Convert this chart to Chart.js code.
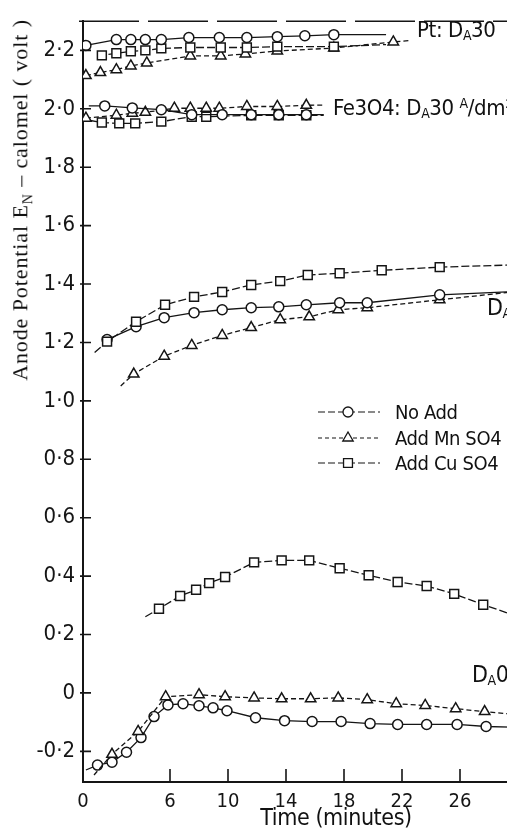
<!DOCTYPE html>
<html lang="en">
<head>
<meta charset="UTF-8">
<title>Anode potential vs time</title>
<script src="https://cdn.jsdelivr.net/npm/chart.js@4.4.1/dist/chart.umd.min.js"></script>
<style>
    html, body { margin: 0; padding: 0; background: #fff; overflow: hidden; }
    body { width: 507px; height: 831px; }
    #wrap { position: relative; width: 560px; height: 831px; }
    .lbl {
        position: absolute;
        font-family: 'DejaVu Sans Condensed', 'Liberation Sans', sans-serif;
        font-size: 20px;
        letter-spacing: -0.4px;
        color: #111;
        white-space: nowrap;
        line-height: 1;
    }
    .lbl sub { font-size: 14px; vertical-align: -3px; }
    .lbl sup { font-size: 14px; vertical-align: 7px; }
    #ytitle {
        position: absolute;
        left: 22px; top: 200px;
        width: 420px;
        margin-left: -210px;
        text-align: center;
        transform: translateY(-50%) rotate(-90deg);
        font-family: 'Liberation Serif', 'DejaVu Serif', serif;
        font-size: 22px;
        letter-spacing: 0.9px;
        color: #111;
        white-space: nowrap;
    }
    #ytitle sub { font-size: 14px; }
    #xtitle {
        position: absolute;
        left: 336px; top: 817px;
        transform: translate(-50%, -50%);
        font-size: 23px;
    }
</style>
</head>
<body>
<div id="wrap">
    <canvas id="chart"></canvas>
    <div id="ytitle">Anode Potential E<sub>N</sub> – calomel ( volt )</div>
    <div id="xtitle" class="lbl">Time (minutes)</div>
    <div class="lbl" style="left:417px; top:19px; font-size:22px;">Pt: D<sub>A</sub>30</div>
    <div class="lbl" style="left:333px; top:96px; font-size:22px;">Fe3O4: D<sub>A</sub>30 <sup>A</sup>/dm²</div>
    <div class="lbl" style="left:487px; top:296px; font-size:23px;">D<sub>A</sub>10</div>
    <div class="lbl" style="left:472px; top:663px; font-size:23px;">D<sub>A</sub>0</div>
    <div id="legend"></div>
</div>

<script>
    // axis ticks
    const xTicks = [0, 6, 10, 14, 18, 22, 26, 30];
    const yTicks = [-0.2, 0, 0.2, 0.4, 0.6, 0.8, 1.0, 1.2, 1.4, 1.6, 1.8, 2.0, 2.2];

    // Pt : DA 30
    const ptCircT = [0.2, 2.3, 3.3, 4.3, 5.4, 7.3, 9.4, 11.3, 13.4, 15.3, 17.3, 20.9];
    const ptCircV = [2.217, 2.237, 2.237, 2.237, 2.237, 2.244, 2.244, 2.244, 2.247, 2.25, 2.254, 2.254];
    const ptSqT = [1.0, 1.3, 2.3, 3.3, 4.3, 5.4, 7.4, 9.5, 11.3, 13.4, 17.3, 20.9];
    const ptSqV = [2.183, 2.183, 2.19, 2.197, 2.2, 2.207, 2.21, 2.21, 2.21, 2.213, 2.213, 2.22];
    const ptTriT = [0.2, 1.2, 2.3, 3.3, 4.4, 7.4, 9.5, 11.2, 13.4, 17.3, 21.4, 22.6];
    const ptTriV = [2.114, 2.124, 2.134, 2.147, 2.157, 2.181, 2.181, 2.188, 2.198, 2.208, 2.229, 2.234];

    // Fe3O4 : DA 30
    const feCircT = [0.4, 1.5, 3.4, 5.4, 7.5, 9.6, 11.6, 13.5, 15.4, 16.6];
    const feCircV = [2.01, 2.01, 2.003, 1.997, 1.98, 1.98, 1.98, 1.98, 1.98, 1.98];
    const feTriT = [0.2, 2.3, 3.4, 4.3, 6.3, 7.4, 8.5, 9.4, 11.3, 13.4, 15.4, 16.6];
    const feTriV = [1.968, 1.978, 1.985, 1.988, 2.002, 2.002, 2.002, 2.002, 2.008, 2.008, 2.012, 2.013];
    const feSqT = [0.5, 1.3, 2.5, 3.6, 5.4, 7.5, 8.5, 11.6, 13.5, 15.4, 16.6];
    const feSqV = [1.96, 1.953, 1.95, 1.95, 1.956, 1.973, 1.973, 1.978, 1.978, 1.978, 1.978];

    // middle group
    const midSqT = [0.8, 1.66, 3.66, 5.66, 7.66, 9.6, 11.6, 13.6, 15.5, 17.7, 20.6, 24.6, 30];
    const midSqV = [1.166, 1.203, 1.271, 1.329, 1.356, 1.373, 1.397, 1.41, 1.431, 1.437, 1.447, 1.458, 1.466];
    const midCircT = [1.66, 3.66, 5.6, 7.66, 9.6, 11.6, 13.5, 15.4, 17.7, 19.6, 24.6, 30];
    const midCircV = [1.21, 1.254, 1.285, 1.302, 1.312, 1.319, 1.322, 1.329, 1.336, 1.336, 1.363, 1.375];
    const midTriT = [2.6, 3.5, 5.6, 7.5, 9.6, 11.6, 13.6, 15.6, 17.6, 19.6, 24.6, 30];
    const midTriV = [1.051, 1.092, 1.153, 1.19, 1.224, 1.251, 1.278, 1.288, 1.312, 1.319, 1.346, 1.375];

    // CuSO4 hump
    const cuT = [4.3, 5.24, 6.7, 7.8, 8.7, 9.8, 11.8, 13.7, 15.6, 17.7, 19.7, 21.7, 23.7, 25.6, 27.6, 29.5];
    const cuV = [0.261, 0.288, 0.332, 0.353, 0.376, 0.397, 0.447, 0.454, 0.454, 0.427, 0.403, 0.38, 0.366, 0.339, 0.302, 0.27];

    // bottom group
    const botTriT = [0.76, 2.0, 3.8, 5.7, 8.0, 9.8, 11.8, 13.7, 15.7, 17.6, 19.6, 21.6, 23.6, 25.7, 27.7, 29.5];
    const botTriV = [-0.281, -0.21, -0.132, -0.013, -0.006, -0.013, -0.017, -0.02, -0.02, -0.017, -0.023, -0.037, -0.043, -0.054, -0.064, -0.072];
    const botCircT = [0.2, 1, 2, 3, 4, 4.9, 5.86, 6.9, 8, 8.97, 9.93, 11.9, 13.9, 15.8, 17.8, 19.8, 21.7, 23.7, 25.8, 27.8, 29.5];
    const botCircV = [-0.264, -0.247, -0.237, -0.203, -0.153, -0.081, -0.041, -0.037, -0.044, -0.051, -0.061, -0.085, -0.095, -0.098, -0.098, -0.105, -0.108, -0.108, -0.108, -0.115, -0.117];

    const legendLabels = ['No Add', 'Add Mn SO4', 'Add Cu SO4'];
    const legendRows = [412, 438, 463];

    const INK = '#151515';
    const radius = { circle: 5, triangle: 6, rect: 6.3 };
    const dashes = { circle: [], triangle: [5, 3], rect: [8, 3] };

    // lead / tail points carry the line but no marker
    function series(t, v, shape, lead, tail) {
        const last = t.length - 1;
        return {
            data: t.map((x, i) => ({ x: x, y: v[i] })),
            showLine: true,
            borderColor: INK,
            borderWidth: 1.3,
            borderDash: dashes[shape],
            pointStyle: shape,
            pointRadius: ctx => ((lead && ctx.dataIndex === 0) || (tail && ctx.dataIndex === last)) ? 0 : radius[shape],
            pointBackgroundColor: '#fff',
            pointBorderColor: INK,
            pointBorderWidth: 1.5,
            tension: 0
        };
    }

    const frame = {
        id: 'frame',
        afterDraw(chart) {
            const ctx = chart.ctx;
            const a = chart.chartArea;
            const xs = chart.scales.x, ys = chart.scales.y;
            ctx.save();
            ctx.strokeStyle = INK;
            ctx.lineWidth = 1.6;
            ctx.beginPath();
            xTicks.forEach(v => {
                if (v === 0) return;
                const px = xs.getPixelForValue(v);
                ctx.moveTo(px, a.bottom);
                ctx.lineTo(px, a.bottom - 13);
            });
            yTicks.forEach(v => {
                const py = ys.getPixelForValue(v);
                ctx.moveTo(a.left - 3, py);
                ctx.lineTo(a.left + 8, py);
            });
            ctx.stroke();
            // broken top rule
            ctx.setLineDash([60, 9]);
            ctx.lineWidth = 1.5;
            ctx.beginPath();
            ctx.moveTo(a.left - 4, a.top);
            ctx.lineTo(a.right, a.top);
            ctx.stroke();
            // legend samples
            const shapes = ['circle', 'triangle', 'rect'];
            shapes.forEach((s, i) => {
                ctx.setLineDash(i === 1 ? [4, 3] : [7, 3]);
                ctx.lineWidth = 1.2;
                ctx.beginPath();
                ctx.moveTo(318, legendRows[i]);
                ctx.lineTo(380, legendRows[i]);
                ctx.stroke();
                ctx.setLineDash([]);
                ctx.fillStyle = '#fff';
                ctx.lineWidth = 1.3;
                Chart.helpers.drawPoint(ctx, { pointStyle: s, radius: radius[s], borderWidth: 1.3, rotation: 0 }, 348, legendRows[i]);
            });
            ctx.restore();
        }
    };

    // legend text
    const legendBox = document.getElementById('legend');
    legendLabels.forEach((txt, i) => {
        const d = document.createElement('div');
        d.className = 'lbl';
        d.style.left = '395px';
        d.style.top = (legendRows[i] - 10) + 'px';
        d.textContent = txt;
        legendBox.appendChild(d);
    });

    const tickFont = "'DejaVu Sans Condensed', 'Liberation Sans', sans-serif";

    new Chart(document.getElementById('chart'), {
        type: 'scatter',
        data: {
            datasets: [
                series(ptCircT, ptCircV, 'circle', false, true),
                series(ptSqT, ptSqV, 'rect', true, true),
                series(ptTriT, ptTriV, 'triangle', false, true),
                series(feCircT, feCircV, 'circle', true, true),
                series(feTriT, feTriV, 'triangle', false, true),
                series(feSqT, feSqV, 'rect', true, true),
                series(midSqT, midSqV, 'rect', true, true),
                series(midCircT, midCircV, 'circle', false, true),
                series(midTriT, midTriV, 'triangle', true, true),
                series(cuT, cuV, 'rect', true, true),
                series(botTriT, botTriV, 'triangle', true, true),
                series(botCircT, botCircV, 'circle', true, true)
            ]
        },
        options: {
            responsive: true,
            maintainAspectRatio: false,
            animation: false,
            layout: { padding: { top: 13, right: 13, left: 0, bottom: 0 } },
            plugins: {
                legend: { display: false },
                tooltip: { enabled: false }
            },
            scales: {
                x: {
                    type: 'linear',
                    min: 0,
                    max: 32,
                    afterFit: s => { s.height = 49; },
                    afterBuildTicks: s => { s.ticks = xTicks.map(v => ({ value: v })); },
                    grid: { drawOnChartArea: false, drawTicks: false },
                    border: { color: INK, width: 2 },
                    ticks: {
                        autoSkip: false,
                        maxRotation: 0,
                        padding: 8,
                        color: INK,
                        font: { family: tickFont, size: 20 },
                        callback: v => String(v)
                    }
                },
                y: {
                    type: 'linear',
                    min: -0.305,
                    max: 2.30,
                    afterFit: s => { s.width = 83; },
                    afterBuildTicks: s => { s.ticks = yTicks.map(v => ({ value: v })); },
                    grid: { drawOnChartArea: false, drawTicks: false },
                    border: { color: INK, width: 2 },
                    ticks: {
                        padding: 8,
                        color: INK,
                        font: { family: tickFont, size: 22 },
                        callback: v => Math.abs(v) < 1e-9 ? '0' : v.toFixed(1).replace('.', '·')
                    }
                }
            }
        },
        plugins: [frame]
    });
</script>
</body>
</html>
